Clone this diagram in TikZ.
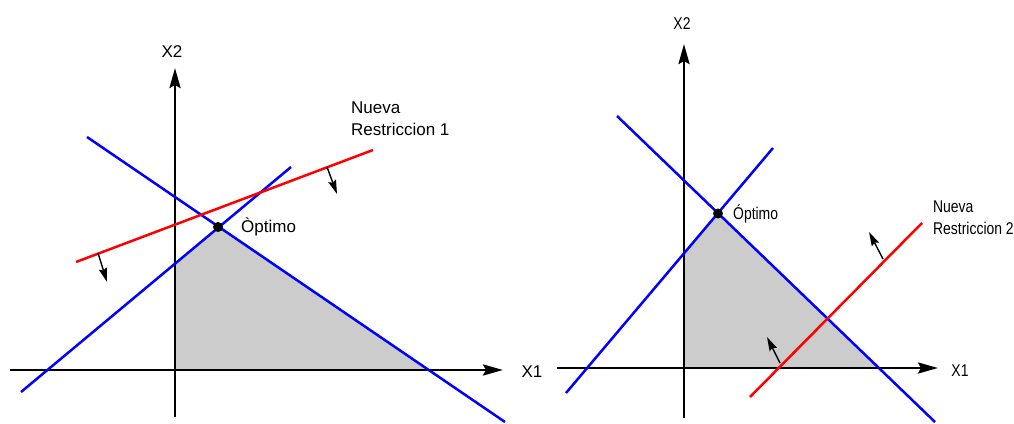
\documentclass[tikz,border=0pt]{standalone}
\usepackage{fontspec}
\setmainfont{Liberation Sans}
\usetikzlibrary{arrows.meta}
\definecolor{feas}{RGB}{204,204,204}
\definecolor{cblue}{RGB}{0,0,255}
\definecolor{cred}{RGB}{255,0,0}
\tikzset{
  axis/.style={line width=2.8pt,-{Stealth[length=20pt,width=11pt,inset=3pt]}},
  bline/.style={cblue,line width=2.5pt},
  rline/.style={cred,line width=2.5pt},
  dirarrow/.style={line width=1.4pt,-{Stealth[length=14pt,width=8pt,inset=2pt]}},
  lbl/.style={font=\fontsize{17}{20}\selectfont,inner sep=0pt},
  lblr/.style={font=\fontsize{17}{20}\selectfont,inner sep=0pt,xscale=0.82},
  optdot/.style={circle,fill=black,inner sep=0pt,minimum size=10pt}
}
\begin{document}
\begin{tikzpicture}[x=1pt,y=-1pt]
\useasboundingbox (0,0) rectangle (1014,423);
% ---------- left panel ----------
\coordinate (L0) at (175,370);
\coordinate (LyB) at (175,417);
\coordinate (LyT) at (175,68);
\coordinate (LxL) at (10,370);
\coordinate (LxR) at (503,370);
\coordinate (La1) at (21,392);
\coordinate (La2) at (291,167);
\coordinate (Lb1) at (87,137);
\coordinate (Lb2) at (505,422);
\coordinate (LyI) at (175,263.5);
\coordinate (LxI) at (428.5,370);
\coordinate (Lr1) at (76,262);
\coordinate (Lr2) at (373,150);
\fill[feas] (L0) -- (LyI) -- (218,227) -- (LxI) -- cycle;
\draw[axis] (LyB) -- (LyT);
\draw[axis] (LxL) -- (LxR);
\draw[bline] (La1) -- (La2);
\draw[bline] (Lb1) -- (Lb2);
\draw[rline] (Lr1) -- (Lr2);
\coordinate (Lp1s) at (98,253);
\coordinate (Lp1e) at (107,282);
\coordinate (Lp2s) at (327,167);
\coordinate (Lp2e) at (337,194);
\draw[dirarrow] (Lp1s) -- (Lp1e);
\draw[dirarrow] (Lp2s) -- (Lp2e);
\node[optdot] (Lopt) at (218,227) {};
\node[lbl,anchor=west] (LoptL) at (241,227) {Òptimo};
\node[lbl] (LX2) at (172,52) {X2};
\node[lbl] (LX1) at (532,372) {X1};
\node[lbl,anchor=west,align=left] (LN) at (351,119) {Nueva\\[2pt]Restriccion 1};
% ---------- right panel ----------
\coordinate (R0) at (684,368);
\coordinate (RyB) at (684,418);
\coordinate (RyT) at (684,44);
\coordinate (RxL) at (557,368);
\coordinate (RxR) at (938,368);
\coordinate (Ra1) at (566,393);
\coordinate (Ra2) at (773,148);
\coordinate (Rb1) at (617,116);
\coordinate (Rb2) at (935,422);
\coordinate (RyI) at (684,253.3);
\coordinate (RxI) at (878,368);
\coordinate (Rr1) at (750,397);
\coordinate (Rr2) at (922,223);
\fill[feas] (R0) -- (RyI) -- (718,213.5) -- (RxI) -- cycle;
\draw[axis] (RyB) -- (RyT);
\draw[axis] (RxL) -- (RxR);
\draw[bline] (Ra1) -- (Ra2);
\draw[bline] (Rb1) -- (Rb2);
\draw[rline] (Rr1) -- (Rr2);
\coordinate (Rp1s) at (780,363);
\coordinate (Rp1e) at (767,337);
\coordinate (Rp2s) at (883,259);
\coordinate (Rp2e) at (869,232);
\draw[dirarrow] (Rp1s) -- (Rp1e);
\draw[dirarrow] (Rp2s) -- (Rp2e);
\node[optdot] (Ropt) at (718,213.5) {};
\node[lblr,anchor=west] (RoptL) at (733,214) {Óptimo};
\node[lblr] (RX2) at (682,24) {X2};
\node[lblr] (RX1) at (960,371) {X1};
\node[lblr,anchor=west,align=left] (RN) at (933,218) {Nueva\\[2pt]Restriccion 2};
\end{tikzpicture}
\end{document}
